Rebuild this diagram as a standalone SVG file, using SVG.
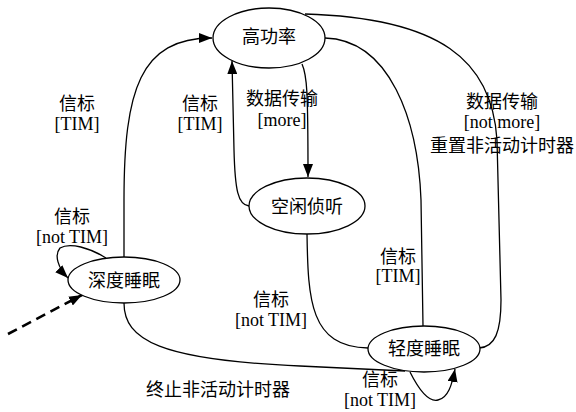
<svg xmlns="http://www.w3.org/2000/svg" width="576" height="412" viewBox="0 0 576 412">
<style>
.n{fill:#fff;stroke:#000;stroke-width:1.3}
.e{fill:none;stroke:#000;stroke-width:1.3}
.t{font-family:"Liberation Serif","Noto Sans CJK SC",serif;font-size:18px;fill:#000;text-anchor:middle}
</style>
<defs>
<marker id="a" markerUnits="userSpaceOnUse" markerWidth="14" markerHeight="10" refX="13" refY="5" orient="auto">
<path d="M0,0 L13,5 L0,10 Z" fill="#000"/>
</marker>
</defs>
<g id="edges">
<path class="e" d="M124,257 L124,200 C124,90 140,38 212,38" marker-end="url(#a)"/>
<path class="e" d="M249,206 C238,205 235,190 234,150 L232,61" marker-end="url(#a)"/>
<path class="e" d="M302,64 C307,75 308,90 308,177" marker-end="url(#a)"/>
<path class="e" d="M325,38 C390,40 418,120 421,200 L423,326"/>
<path class="e" d="M305,14 C440,18 492,60 497,140 L501,300 C501,332 495,347 479,348"/>
<path class="e" d="M307,234 C308,300 310,347 368,348"/>
<path class="e" d="M124,303 C124,340 160,360 300,366 L405,371"/>
<path class="e" d="M410,372 C420,392 430,402 438,400 C448,398 452,385 455,369" marker-end="url(#a)"/>
<path class="e" d="M106,258 C90,248 70,242 60,248 C54,255 58,268 68,278" marker-end="url(#a)"/>
<path d="M8,334 L82,295" fill="none" stroke="#000" stroke-width="2.6" stroke-dasharray="10,6" marker-end="url(#a)"/>
</g>
<g id="high"><ellipse class="n" cx="269" cy="38" rx="56" ry="30"/><text class="t" x="269" y="43">高功率</text></g>
<g id="idle"><ellipse class="n" cx="307" cy="206" rx="58" ry="28"/><text class="t" x="307" y="213">空闲侦听</text></g>
<g id="deep"><ellipse class="n" cx="124" cy="280" rx="56" ry="23"/><text class="t" x="124" y="287">深度睡眠</text></g>
<g id="light"><ellipse class="n" cx="424" cy="349" rx="56" ry="23"/><text class="t" x="424" y="355">轻度睡眠</text></g>
<g id="labels">
<text class="t" x="77" y="110">信标</text><text class="t" x="77" y="130">[TIM]</text>
<text class="t" x="200" y="110">信标</text><text class="t" x="200" y="130">[TIM]</text>
<text class="t" x="282" y="105">数据传输</text><text class="t" x="282" y="126">[more]</text>
<text class="t" x="502" y="108">数据传输</text><text class="t" x="502" y="128">[not more]</text><text class="t" x="502" y="152">重置非活动计时器</text>
<text class="t" x="72" y="223">信标</text><text class="t" x="72" y="243">[not TIM]</text>
<text class="t" x="271" y="306">信标</text><text class="t" x="271" y="326">[not TIM]</text>
<text class="t" x="398" y="263">信标</text><text class="t" x="398" y="282">[TIM]</text>
<text class="t" x="218" y="396">终止非活动计时器</text>
<text class="t" x="380" y="386">信标</text><text class="t" x="380" y="406">[not TIM]</text>
</g>
</svg>
